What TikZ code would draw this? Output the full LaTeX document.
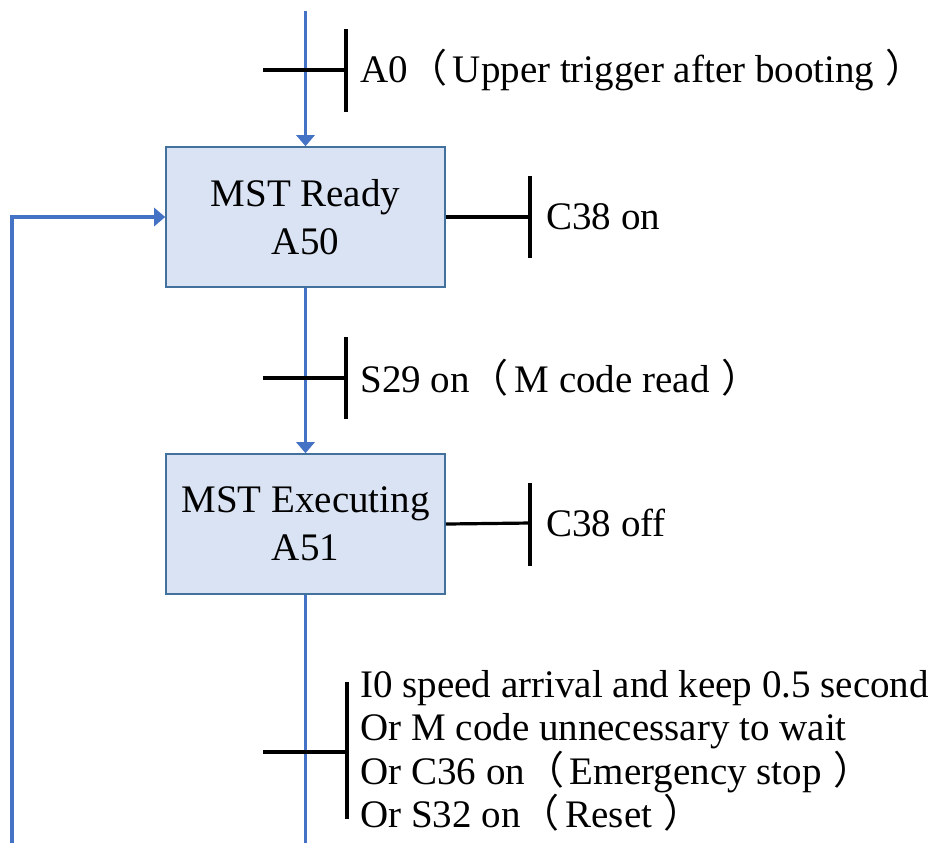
\documentclass[tikz,border=0pt]{standalone}
\usepackage{fontspec}
\setmainfont{LiberationSerif}[Extension=.ttf,UprightFont=*-Regular,BoldFont=*-Bold]
\newfontfamily\cjk{Noto Sans CJK SC}
\usetikzlibrary{arrows.meta}
% full-width brackets, with a little air on the inner side
\newcommand\lpar{{\cjk （}\hspace{0.15em}}
\newcommand\rpar{\hspace{0.3em}{\cjk ）}}
\definecolor{flowblue}{HTML}{4472C4}
\definecolor{boxline}{HTML}{41719C}
\definecolor{boxfill}{HTML}{DAE3F3}
\begin{document}
\begin{tikzpicture}[x=0.5pt,y=-0.5pt,
  state/.style={draw=boxline, fill=boxfill, line width=0.8pt,
    minimum width=139.5pt, minimum height=70pt, align=center,
    inner sep=0pt, font=\fontsize{19.5}{24}\selectfont},
  flow/.style={draw=flowblue, line width=1.7pt},
  flowarrow/.style={flow, -{Triangle[length=5.5pt,width=9pt]}},
  cond/.style={draw=black, line width=1.6pt},
  condtext/.style={anchor=west, inner sep=0pt, align=left,
    font=\fontsize{19.5}{21.75}\selectfont}]
\useasboundingbox (0,0) rectangle (940,843);

% steps
\node[state] (ready) at (305.5,217) {MST Ready\\A50};
\node[state] (exec) at (305.5,524) {MST Executing\\A51};

% main flow line
\coordinate (top) at (305.5,11);
\coordinate (bottom) at (305.5,843);
\coordinate (loopstart) at (12,843);
\draw[flowarrow] (top) -- (ready.north);
\draw[flowarrow] (ready.south) -- (exec.north);
\draw[flow] (exec.south) -- (bottom);
\draw[flowarrow] (loopstart) |- (ready.west);

% transition A0
\coordinate (t0l) at (263,70);
\coordinate (t0) at (346,70);
\draw[cond] (t0l) -- (t0);
\draw[cond] ([yshift=20.5pt]t0) -- ([yshift=-21pt]t0);
\node[condtext] (l0) at (360,70) {A0\lpar Upper trigger after booting\rpar};

% action of A50
\coordinate (a50) at (530,217);
\draw[cond] (ready.east) -- (a50);
\draw[cond] ([yshift=20.5pt]a50) -- ([yshift=-20.5pt]a50);
\node[condtext] (la50) at (546,217) {C38 on};

% transition S29
\coordinate (t1l) at (263,378);
\coordinate (t1) at (346,378);
\draw[cond] (t1l) -- (t1);
\draw[cond] ([yshift=20.5pt]t1) -- ([yshift=-20.5pt]t1);
\node[condtext] (l1) at (360,378) {S29 on\lpar M code read\rpar};

% action of A51
\coordinate (a51) at (530,523);
\draw[cond] (exec.east) -- (a51);
\draw[cond] ([yshift=20pt]a51) -- ([yshift=-21.5pt]a51);
\node[condtext] (la51) at (546,523) {C38 off};

% transition back to A50
\coordinate (t2l) at (263,752);
\coordinate (t2) at (347,752);
\draw[cond] (t2l) -- (t2);
\draw[cond] ([yshift=35pt]t2) -- ([yshift=-33.5pt]t2);
\node[condtext] (l2) at (360,751) {I0 speed arrival and keep 0.5 second\\
  Or M code unnecessary to wait\\
  Or C36 on\lpar Emergency stop\rpar\\
  Or S32 on\lpar Reset\rpar};
\end{tikzpicture}
\end{document}
